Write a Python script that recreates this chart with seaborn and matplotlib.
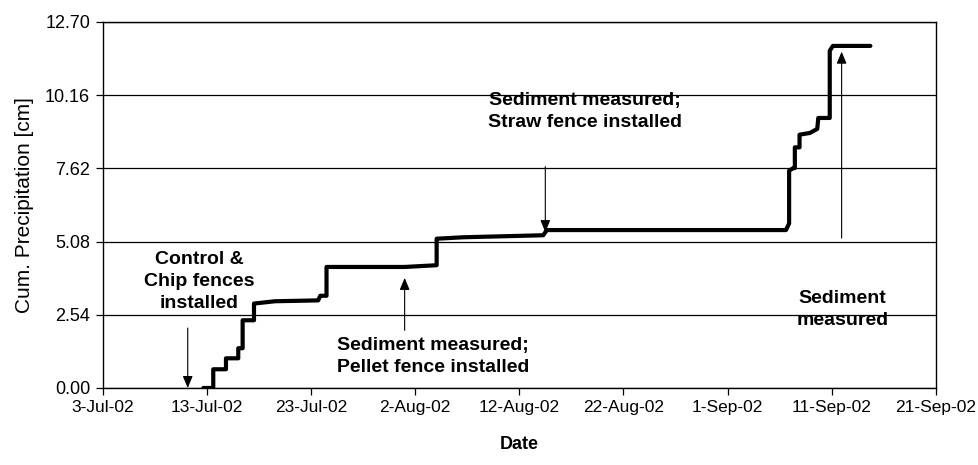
#!/usr/bin/env python3
"""
Cumulative precipitation at the silt fence test site, Jul-Sep 2002.
Output: out.png
"""

import pandas as pd
import matplotlib.pyplot as plt
import seaborn as sns

START = pd.Timestamp("2002-07-03")

# step series, days after 3-Jul-02 and cumulative rain in cm
days = [9.67, 10.63, 10.63, 11.85, 11.85, 13.03, 13.03, 13.45, 13.45, 14.54,
        14.54, 16.55, 20.7, 20.9, 21.5, 21.5, 29.0, 32.07, 32.07, 34.6,
        42.3, 42.65, 65.6, 65.9, 65.9, 66.3, 66.45, 66.45, 66.9, 66.9,
        67.9, 68.6, 68.7, 69.8, 69.8, 70.1, 73.7]
cum_cm = [0.0, 0.0, 0.65, 0.65, 1.03, 1.03, 1.38, 1.38, 2.35, 2.35,
          2.93, 3.01, 3.04, 3.20, 3.20, 4.20, 4.20, 4.26, 5.18, 5.23,
          5.30, 5.48, 5.48, 5.71, 7.54, 7.63, 7.63, 8.35, 8.35, 8.79,
          8.85, 8.99, 9.37, 9.37, 11.70, 11.87, 11.87]

y_ticks = [0.00, 2.54, 5.08, 7.62, 10.16, 12.70]
x_tick_days = [0, 10, 20, 30, 40, 50, 60, 70, 80]

# events: label, arrow day, arrow tail / head (cm), text centre
event_labels = ["Control &\nChip fences\ninstalled",
                "Sediment measured;\nPellet fence installed",
                "Sediment measured;\nStraw fence installed",
                "Sediment\nmeasured"]
event_days = [8.18, 29.0, 42.5, 70.94]
event_tail = [2.08, 2.0, 7.68, 5.2]
event_head = [0.0, 3.82, 5.41, 11.67]
text_days = [9.26, 31.7, 46.3, 71.0]
text_cm = [3.71, 1.09, 9.61, 2.74]

df = pd.DataFrame({"Date": START + pd.to_timedelta(days, unit="D"),
                   "Cum": cum_cm})

sns.set_theme(style="white")
plt.rcParams["font.family"] = ["Liberation Sans", "DejaVu Sans"]
plt.rcParams["text.color"] = "black"
plt.rcParams["axes.labelcolor"] = "black"

fig = plt.figure(figsize=(9.79, 4.65), dpi=100)
ax = fig.add_axes([0.1047, 0.1656, 0.8514, 0.7871])

sns.lineplot(x="Date", y="Cum", data=df, estimator=None, sort=False,
             color="black", linewidth=3.0, ax=ax)

ax.set_xlim(START, START + pd.Timedelta(days=80))
ax.set_ylim(0, 12.70)
ax.set_yticks(y_ticks)
ax.set_yticklabels([f"{v:.2f}" for v in y_ticks], fontsize=13)
xt = [START + pd.Timedelta(days=d) for d in x_tick_days]
ax.set_xticks(xt)
ax.set_xticklabels([f"{t.day}-{t.strftime('%b')}-02" for t in xt], fontsize=12.5)

ax.grid(axis="y", color="black", linewidth=0.9)
ax.grid(axis="x", visible=False)
for s in ax.spines.values():
    s.set_color("black")
    s.set_linewidth(1.0)
ax.tick_params(axis="both", direction="out", length=5, width=0.9,
               colors="black", labelcolor="black", bottom=True, left=True, pad=4)

ax.set_xlabel("Date", fontsize=13, fontweight="bold", labelpad=15, color="black")
ax.set_ylabel("Cum. Precipitation [cm]", fontsize=15, labelpad=8, color="black")

for lab, ad, at, ah, td, tc in zip(event_labels, event_days, event_tail,
                                   event_head, text_days, text_cm):
    d = START + pd.Timedelta(days=ad)
    ax.annotate("", xy=(d, ah), xytext=(d, at),
                arrowprops=dict(arrowstyle="-|>,head_length=0.6,head_width=0.25",
                                color="black", lw=0.8, shrinkA=0, shrinkB=0))
    ax.text(START + pd.Timedelta(days=td), tc, lab, ha="center", va="center",
            fontsize=14, fontweight="bold", linespacing=1.38, color="black")

fig.savefig("out.png", dpi=100)
plt.close(fig)
print("[OK] saved out.png")
